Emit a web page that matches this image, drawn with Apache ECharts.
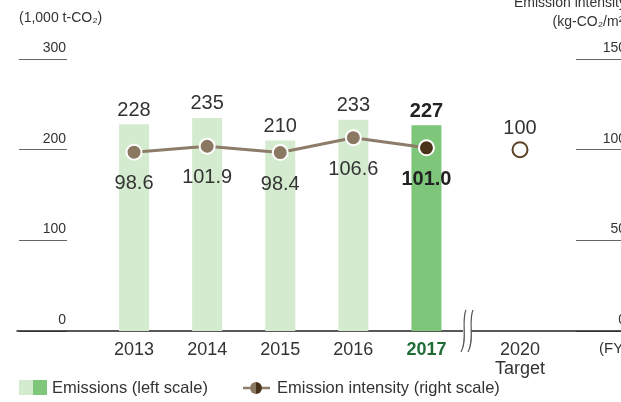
<!DOCTYPE html>
<html>
<head>
<meta charset="utf-8">
<script src="https://cdn.jsdelivr.net/npm/echarts@6/dist/echarts.min.js"></script>
<style>
  html, body { margin: 0; padding: 0; background: #fff; }
  #chart { width: 621px; height: 402px; }
</style>
</head>
<body>
<div id="chart"></div>
<script>
// Fiscal years and CO2 figures
const years = ['2013', '2014', '2015', '2016', '2017'];
const emissions = [228, 235, 210, 233, 227];          // 1,000 t-CO2 (left scale)
const intensity = [98.6, 101.9, 98.4, 106.6, 101.0];  // kg-CO2/m2 (right scale)
const targetYears = ['2020\nTarget'];
const targetIntensity = [100];

// Scale ticks
const leftScale = { min: 0, max: 300, interval: 100 };
const rightScale = { min: 0, max: 150, interval: 50 };

const FONT = '"Liberation Sans", Arial, sans-serif';
const TEXT = '#333';
const LIGHT_GREEN = '#d4ebcf';
const GREEN = '#7dc67a';
const LINE_BROWN = '#8c7c68';
const DOT_BROWN = '#8b7862';
const DARK_BROWN = '#4a3419';
const latest = years.length - 1;

const TOP = 59, BOTTOM = 71;

const chart = echarts.init(document.getElementById('chart'), null, { renderer: 'canvas' });

const scaleLabel = {
  inside: true, margin: 1, fontSize: 14, color: TEXT, fontFamily: FONT,
  verticalAlign: 'bottom', lineHeight: 22
};

function label(text, x, y, size, align) {
  return {
    type: 'text', x: x, y: y, z: 10,
    style: { text: text, fontSize: size, fontFamily: FONT, fill: TEXT, align: align || 'left', verticalAlign: 'middle' }
  };
}

const gridBase = { top: TOP, bottom: BOTTOM, outerBoundsMode: 'none' };

chart.setOption({
  animation: false,
  textStyle: { fontFamily: FONT },
  grid: [
    { ...gridBase, left: 19, width: 48 },        // left scale
    { ...gridBase, left: 97.5, width: 365.5 },   // actual years
    { ...gridBase, left: 483, width: 74 },       // target year
    { ...gridBase, left: 576, right: -6 },       // right scale
    { ...gridBase, left: 17, right: 0 }          // baseline
  ],
  xAxis: [
    { gridIndex: 0, type: 'value', show: false },
    {
      gridIndex: 1, type: 'category', data: years,
      axisLine: { show: false }, axisTick: { show: false },
      axisLabel: {
        interval: 0, fontSize: 18, color: TEXT, margin: 10,
        formatter: (v, i) => i === latest ? '{hl|' + v + '}' : v,
        rich: { hl: { fontSize: 18, fontWeight: 'bold', color: '#1f6d35' } }
      }
    },
    {
      gridIndex: 2, type: 'category', data: targetYears,
      axisLine: { show: false }, axisTick: { show: false },
      axisLabel: { interval: 0, fontSize: 18, color: TEXT, margin: 10, lineHeight: 19 }
    },
    { gridIndex: 3, type: 'value', show: false },
    {
      gridIndex: 4, type: 'value', min: 0, max: 1,
      axisLine: { show: true, lineStyle: { color: '#222', width: 1.5 } },
      axisTick: { show: false }, axisLabel: { show: false }, splitLine: { show: false }
    }
  ],
  yAxis: [
    {
      gridIndex: 0, type: 'value', position: 'right', ...leftScale,
      axisLine: { show: false }, axisTick: { show: false },
      axisLabel: scaleLabel,
      splitLine: { show: true, lineStyle: { color: '#666', width: 1 } }
    },
    { gridIndex: 1, type: 'value', ...leftScale, show: false },
    { gridIndex: 1, type: 'value', ...rightScale, show: false },
    { gridIndex: 2, type: 'value', ...rightScale, show: false },
    {
      gridIndex: 3, type: 'value', position: 'right', ...rightScale,
      axisLine: { show: false }, axisTick: { show: false },
      axisLabel: scaleLabel,
      splitLine: { show: true, lineStyle: { color: '#666', width: 1 } }
    },
    { gridIndex: 4, type: 'value', show: false, min: 0, max: 1 }
  ],
  series: [
    {
      name: 'Emissions', type: 'bar', xAxisIndex: 1, yAxisIndex: 1,
      barWidth: 30,
      data: emissions.map((v, i) => ({
        value: v,
        itemStyle: { color: i === latest ? GREEN : LIGHT_GREEN },
        label: i === latest ? { fontWeight: 'bold', color: '#222' } : {}
      })),
      label: { show: true, position: 'top', distance: 4, fontSize: 20, color: TEXT }
    },
    {
      name: 'Emission intensity', type: 'line', xAxisIndex: 1, yAxisIndex: 2,
      z: 5,
      symbol: 'circle', symbolSize: 15,
      lineStyle: { color: LINE_BROWN, width: 3 },
      itemStyle: { color: DOT_BROWN, borderColor: '#fff', borderWidth: 2 },
      data: intensity.map((v, i) => (i === latest
        ? { value: v, itemStyle: { color: DARK_BROWN }, label: { fontWeight: 'bold', color: '#222' } }
        : { value: v })),
      label: {
        show: true, position: 'bottom', distance: 13, fontSize: 20, color: TEXT,
        formatter: p => p.value.toFixed(1)
      }
    },
    {
      name: 'Target intensity', type: 'scatter', xAxisIndex: 2, yAxisIndex: 3,
      symbol: 'circle', symbolSize: 15,
      itemStyle: { color: '#fff', borderColor: '#5a4324', borderWidth: 2, opacity: 1 },
      data: targetIntensity,
      label: {
        show: true, position: 'top', distance: 3, fontSize: 20, color: TEXT,
        formatter: p => String(p.value)
      }
    }
  ],
  graphic: [
    // axis captions
    label('(1,000 t-CO₂)', 19, 18, 14),
    label('Emission intensity', 626, 3, 14, 'right'),
    label('(kg-CO₂/m²)', 628, 22, 14, 'right'),
    label('(FY)', 599, 349, 15),
    // axis break mark
    { type: 'rect', z: 20, shape: { x: 463, y: 329, width: 8, height: 5 }, style: { fill: '#fff' } },
    {
      type: 'bezierCurve', z: 21,
      shape: { x1: 466, y1: 310, cpx1: 461, cpy1: 321, cpx2: 468, cpy2: 340, x2: 461, y2: 352 },
      style: { stroke: '#555', lineWidth: 1.2, fill: null }
    },
    {
      type: 'bezierCurve', z: 21,
      shape: { x1: 473, y1: 310, cpx1: 468, cpy1: 321, cpx2: 475, cpy2: 340, x2: 468, y2: 352 },
      style: { stroke: '#555', lineWidth: 1.2, fill: null }
    },
    // legend: emissions
    { type: 'rect', shape: { x: 19, y: 380, width: 14, height: 15 }, style: { fill: LIGHT_GREEN } },
    { type: 'rect', shape: { x: 33, y: 380, width: 14, height: 15 }, style: { fill: GREEN } },
    label('Emissions (left scale)', 52, 388, 16.5),
    // legend: intensity
    { type: 'line', shape: { x1: 243, y1: 388, x2: 250, y2: 388 }, style: { stroke: LINE_BROWN, lineWidth: 2.5 } },
    { type: 'line', shape: { x1: 262, y1: 388, x2: 270, y2: 388 }, style: { stroke: LINE_BROWN, lineWidth: 2.5 } },
    { type: 'sector', shape: { cx: 256, cy: 388, r: 6, startAngle: Math.PI / 2, endAngle: Math.PI * 1.5 }, style: { fill: DOT_BROWN } },
    { type: 'sector', shape: { cx: 256, cy: 388, r: 6, startAngle: -Math.PI / 2, endAngle: Math.PI / 2 }, style: { fill: DARK_BROWN } },
    label('Emission intensity (right scale)', 277, 388, 16.5)
  ]
});
</script>
</body>
</html>
